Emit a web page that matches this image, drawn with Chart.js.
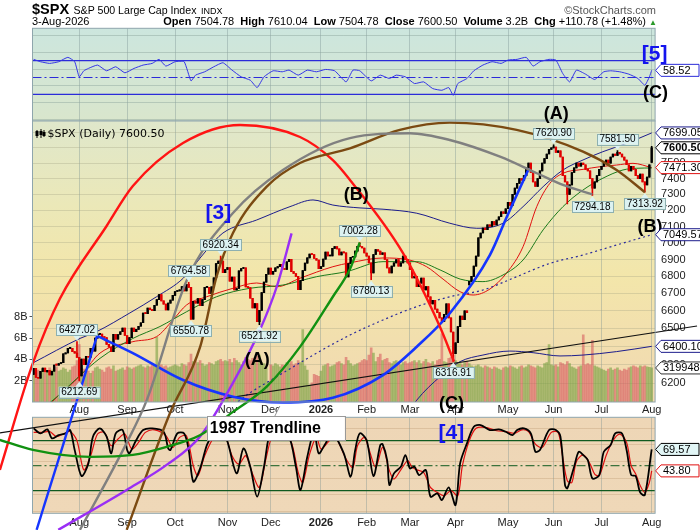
<!DOCTYPE html>
<html><head><meta charset="utf-8">
<script src="https://cdn.jsdelivr.net/npm/chart.js@4.4.1/dist/chart.umd.min.js"></script>
<style>
html,body{margin:0;padding:0;background:#fff;}
#wrap{position:relative;width:700px;height:530px;overflow:hidden;font-family:"Liberation Sans",Arial,sans-serif;color:#000;}
canvas{position:absolute;left:0;top:0;}
.hdr{position:absolute;white-space:nowrap;}
</style></head><body>
<div id="wrap">
<canvas id="cRsi" width="700" height="530"></canvas>
<canvas id="cOsc" width="700" height="530"></canvas>
<canvas id="cMain" width="700" height="530"></canvas>
<div class="hdr" style="left:32px;top:1px;line-height:15px;"><b style="font-size:14.5px">$SPX</b> <span style="font-size:10.6px">S&amp;P 500 Large Cap Index</span> <span style="font-size:9px">INDX</span></div>
<div class="hdr" style="right:44px;top:4px;font-size:11px;line-height:12px;color:#555">©StockCharts.com</div>
<div class="hdr" style="left:32px;top:15px;font-size:11px;line-height:12px">3-Aug-2026</div>
<div class="hdr" style="right:43px;top:15px;font-size:11px;line-height:12px"><b>Open</b> 7504.78&nbsp; <b>High</b> 7610.04&nbsp; <b>Low</b> 7504.78&nbsp; <b>Close</b> 7600.50&nbsp; <b>Volume</b> 3.2B&nbsp; <b>Chg</b> +110.78 (+1.48%) <span style="color:#2a9a2a;font-size:8px">▲</span></div>
</div>
<script>
// ---------------- DATA ----------------
const monthIdx = [20,41,62,85,104,126,146,165,185,208,228,249,271];
const monthLabels = ['Aug','Sep','Oct','Nov','Dec','2026','Feb','Mar','Apr','May','Jun','Jul','Aug'];

const closes = [
6279.35,6229.98,6225.52,6263.26,6280.46,6259.75,6268.56,6243.76,6263.70,6297.36,
6296.79,6305.60,6309.62,6358.91,6363.35,6388.64,6389.77,6370.86,6362.90,6339.39,
6238.01,6329.94,6299.19,6345.06,6340.00,6389.45,6373.45,6445.76,6466.58,6468.54,
6449.80,6449.15,6411.37,6395.78,6370.17,6466.91,6439.32,6465.94,6481.40,6501.86,
6460.26,6415.54,6448.26,6502.08,6481.50,6495.15,6512.61,6532.04,6587.47,6584.29,
6615.28,6606.76,6600.35,6631.96,6664.36,6693.75,6656.92,6637.97,6604.72,6643.70,
6661.21,6688.46,6711.20,6715.35,6715.79,6740.28,6714.59,6753.72,6735.11,6552.51,
6654.72,6644.31,6671.06,6629.07,6664.01,6735.13,6735.35,6699.40,6738.44,6791.69,
6875.16,6890.89,6890.59,6822.34,6840.20,6851.97,6771.55,6796.29,6720.32,6728.80,
6832.43,6846.61,6850.92,6737.49,6734.11,6672.41,6617.32,6642.16,6538.76,6602.99,
6705.12,6765.88,6812.61,6849.09,6812.63,6829.37,6849.72,6857.12,6870.40,6846.51,
6840.51,6886.68,6901.00,6827.41,6816.51,6800.26,6721.43,6774.76,6834.50,6878.49,
6909.79,6932.05,6929.94,6905.74,6896.24,6845.50,6858.47,6902.05,6944.82,6920.93,
6921.46,6966.28,6977.27,6963.74,6926.60,6944.47,6940.01,6796.86,6875.62,6913.35,
6915.61,6950.23,6978.60,6978.03,6969.01,6939.03,
6920,6880,6820,6930,6960,6950,6930,6940,6900,6850,6820,6860,6880,6900,6860,6880,6920,6900,6880,
6840,6790,6800,6740,6760,6790,6720,6740,6680,6640,6660,6610,6590,6560,6540,6580,6640,6560,6480,6360,6420,6510,
6570,6550,6600,6590,6770,6800,6860,6920,7030,7060,7090,7080,7110,7100,7130,7110,7140,7160,7190,7180,7210,
7250,7230,7300,7340,7370,7400,7390,7420,7470,7500,7440,7380,7350,7400,7450,7500,7530,7560,7590,7600,
7605,7570,7580,7540,7420,7380,7300,7360,7440,7470,7500,7480,7500,7490,7460,7450,7400,7340,7380,7420,7460,
7480,7500,7520,7500,7540,7560,7550,7570,7560,7540,7520,7490,7450,7480,7460,7420,7400,7430,7380,7360,7410,7489.72,7600.50
];
const firstOpen = 6247.0;
const openFixIdx = [191,271];
const openFixVal = [6750,7504.78];
const highIdx = [19,68,82,143,228,256,271];
const highVal = [6427.02,6764.58,6920.34,7002.28,7620.90,7581.50,7610.04];
const lowIdx = [20,69,99,148,184,234,245,268];
const lowVal = [6212.69,6550.78,6521.92,6780.13,6316.91,7240,7294.18,7313.92];

const volumes = [
2.6,2.9,3.0,2.8,3.1,2.7,2.9,3.2,3.0,3.1,3.3,2.9,3.0,3.2,3.1,2.8,3.0,3.3,3.4,3.9,
5.4,
3.2,3.1,3.0,2.9,2.7,2.9,3.2,3.3,3.1,3.0,2.8,3.2,3.3,3.1,3.4,2.9,3.0,3.1,3.2,3.0,
3.3,3.2,3.1,3.2,3.3,3.4,3.5,3.3,3.2,3.4,3.3,3.6,3.5,6.1,3.4,3.5,3.3,3.4,3.2,3.3,3.4,
3.5,3.4,3.3,3.6,3.5,3.4,3.7,4.5,3.8,3.9,3.7,3.9,3.6,3.4,3.5,3.7,3.6,3.5,3.8,3.9,4.0,3.8,3.9,
3.8,4.0,3.7,4.1,3.9,3.7,3.5,3.8,4.2,4.0,3.9,4.1,3.8,4.3,4.4,3.7,3.6,3.2,1.9,
3.5,3.4,3.6,3.5,3.3,3.5,3.4,3.7,3.6,3.8,3.5,3.6,3.9,3.7,6.8,3.4,3.0,1.6,1.8,2.6,2.5,2.4,
2.9,3.4,3.5,3.6,3.3,3.4,3.5,3.7,3.8,3.6,3.5,4.2,3.9,3.6,3.4,3.5,3.6,3.7,3.9,4.0,
3.9,4.4,5.1,4.6,3.8,4.2,4.5,3.9,4.0,4.1,3.7,3.6,3.8,3.9,3.6,3.5,3.7,3.8,3.6,
3.7,3.8,3.9,3.7,3.9,3.6,3.8,4.0,3.7,3.6,3.8,3.5,3.9,4.0,6.4,3.8,3.7,4.1,4.2,4.4,3.9,3.7,
3.6,3.5,3.7,3.8,3.6,3.4,3.3,3.4,3.5,3.3,3.2,3.4,3.3,3.2,3.1,3.3,3.2,3.1,3.0,3.2,3.3,
3.2,3.4,3.3,3.2,3.1,3.3,3.4,3.2,3.3,3.5,3.4,3.3,3.2,3.4,3.3,3.2,3.6,3.7,5.4,3.5,
3.4,3.5,3.3,3.7,3.6,3.5,3.8,3.6,3.3,3.2,3.1,3.3,3.4,6.3,3.5,3.6,3.5,5.8,3.4,3.3,3.2,
3.1,3.0,2.9,3.1,3.2,3.0,3.1,3.2,3.0,2.9,3.1,3.0,3.2,3.3,3.4,3.3,3.2,3.4,3.3,3.4,3.3,3.25,3.2
];

// overlays (trading-day index, price)
const ma20Idx = [0,7.1,21.6,29.1,43.5,53.9,61.1,67.1,75.9,87.4,97.8,106.6,116.8,131.2,138.7,153.2,165,172.3,179.5,187,192.7,200.1,207.4,214.6,220.6,226.4,232.1,240.9,248.3,255.6,262.8,271];
const ma20Val = [5990,6088,6254,6363,6426,6454,6548,6634,6681,6730,6761,6739,6789,6857,6880,6909,6896,6857,6784,6710,6691,6726,6820,6977,7223,7371,7435,7460,7477,7488,7499,7471.30];
const ma50Idx = [0,8.5,29.1,43.5,55.4,67.1,80.2,94.8,109.3,124.1,137.2,153.2,168,178.2,187,197,205.8,214.6,223.4,232.1,240.9,249.6,258.4,264.4,271];
const ma50Val = [6030,6109,6334,6444,6511,6595,6681,6730,6749,6798,6828,6887,6887,6838,6784,6769,6808,6897,7079,7223,7328,7403,7456,7467,7469];
const upperIdx = [-0.3,20.3,27.6,42.2,53.9,65.6,75.9,83,97.8,112.4,122.5,131.2,143.1,153.2,168,182.5,194.3,205.8,214.6,223.4,232.1,240.9,249.6,260,271];
const upperVal = [6309,6444,6482,6588,6681,6789,6957,7060,7140,7223,7265,7233,7215,7207,7182,7120,7089,7120,7223,7349,7456,7521,7575,7630,7699.05];
const lowerIdx = [160.6,168,178.2,187,197,208.8,219,230.8,240.9,255.6,271];
const lowerVal = [5979,6109,6234,6316,6352,6374,6365,6347,6352,6371,6400.10];
const ma200Idx = [80,87.4,94.8,109.3,124.1,138.7,153.2,168,182.5,197,211.8,226.4,240.9,255.6,271];
const ma200Val = [6040,6083,6147,6254,6363,6463,6548,6624,6681,6720,6798,6877,6927,6987,7049.57];

// hand-drawn arcs and trendlines
const redArcIdx = [-14.8,-0.3,11.5,32,43.5,65.5,90.5,116.8,131.2,138.7,161.9,178.2,184.3];
const redArcVal = [5751,6309,6669,7103,7353,7632,7752,7672,7520,7392,6939,6508,6317];
const grayArcIdx = [20.3,40.8,49.6,67.2,87.4,109.3,138.7,165,182.5,204.5,220.6,232.1,245];
const grayArcVal = [5460,5887,6109,6779,7183,7456,7665,7697,7652,7542,7435,7360,7300];
const brownArcIdx = [40.8,59.8,73,80.2,87.4,102.2,116.8,138.7,160.6,182.5,211.8,240.9,255.6,268];
const brownArcVal = [5460,6041,6397,6798,7060,7349,7501,7597,7719,7768,7719,7575,7456,7314];
const greenArcIdx = [-14.8,-0.3,24.7,43.5,58.3,72.9,87.4,102.2,116.8,131.2,138.7,143];
const greenArcVal = [5902,5851,5816,5826,5867,5926,6047,6181,6397,6681,6843,7002];
const purpleArcIdx = [10.8,40.8,58.3,72.9,87.4,99.2,106.6,113.1];
const purpleArcVal = [5460,5652,5776,5918,6201,6491,6739,7058];
const blueArcIdx = [27.8,43.5,65.5,87.4,109.3,131.2,153.2,168,182.5,200.1,207.4,217.2];
const blueArcVal = [6458,6363,6216,6127,6096,6121,6243,6398,6586,6927,7157,7467];
const blueLineIdx = [1.3,27.8];
const blueLineVal = [5460,6458];
const trendIdx = [-14.8,290.9];
const trendVal = [5938,6514];

// indicator panels
const rsiIdx = [0,3,7,11,15,18,20,22,24,28,32,36,40,44,48,52,55,58,62,66,69,71,75,79,83,87,91,95,98,101,105,109,112,116,120,124,128,132,137,140,143,148,152,156,159,163,167,171,175,179,182,184,186,190,193,197,201,205,208,212,216,219,222,226,229,232,235,238,242,246,250,253,257,261,265,268,270,271];
const rsiVal = [71.6,68.8,66.8,68.8,74,68.8,50.8,58,60.8,64.8,58,62.8,55.6,60.8,64.8,66.8,71.6,63.6,68.8,68.8,46,52.8,56.8,62.8,67.6,58.8,50.8,46.8,38,50.8,58,56.8,58.8,52.8,58.8,56.8,59.6,58,44.8,58.8,58,46,52.8,48.8,52.8,50.8,42.8,44.8,36.8,34.8,38,28.8,42.8,48.8,58,64.8,68.8,66.8,70.8,71.6,74,63.6,68.8,71.6,70.8,54.8,44.8,58.8,54,47.6,56.8,58,56.8,54,48.8,40.8,50.8,58.52];
const kIdx = [0,3,6,8,11,14,16,18,21,24,26,29,32,34,36,39,41,42,45,48,52,57,59,60,63,66,68,70,73,76,79,82,85,89,92,95,98,101,104,108,112,115,117,120,123,125,128,131,136,139,141,143,146,149,152,153,155,156,158,161,163,165,167,169,172,174,177,179,182,185,187,190,193,196,200,204,207,210,212,215,218,220,222,226,229,231,233,234,237,239,241,243,245,248,250,253,255,258,260,262,264,266,268,271];
const kVal = [94.8,88.8,93.6,82.8,86.8,88.8,92.8,68.8,37.6,52.8,84.8,94.8,84.8,64.8,88.8,92.8,68.8,64.8,80.8,92.8,94.8,90.8,70.8,68.8,88.8,88.8,68.8,30.8,46.8,75,90,95,78.8,40.8,70.8,48.8,12.8,48.8,92.8,90.8,84.8,48.8,20.8,60.8,90.8,64.8,76.8,88.8,64.8,36.8,68.8,88.8,80.8,37.6,74.8,76,56.8,26.8,40.8,48.8,62.8,46.8,48.8,38.8,44.8,12.8,16.8,8.8,24,2.8,52.8,76.8,96.8,98.8,92.8,93.6,90.8,86.8,92.8,94.8,88.8,66.8,68.8,92.8,92.8,84.8,26.8,22.8,48.8,66.8,62.8,56.8,34.8,38.8,66.8,74.8,88.8,88.8,68.8,38.8,37.6,17.6,14.8,69.57];
const dIdx = [0,4,7,10,13,16,19,22,25,28,31,34,37,40,43,46,49,53,58,61,64,67,70,72,75,79,83,87,90,93,96,99,102,105,109,113,116,118,121,124,126,129,132,137,140,142,145,147,150,153,156,158,161,164,166,168,171,174,177,180,183,186,188,191,194,198,203,207,211,214,217,220,223,227,230,232,234,236,238,241,244,246,248,251,254,257,260,262,264,266,268,270,271];
const dVal = [90,90,91,85,88,91,80,45,62,88,90,74,82,88,70,78,90,93,86,72,84,86,50,38,62,84,92,62,52,62,40,24,60,88,90,78,42,30,64,84,70,78,86,58,48,74,84,70,48,72,44,34,45,56,48,45,42,24,18,14,20,14,50,80,95,96,92,91,89,93,91,76,72,90,90,60,32,30,55,63,52,40,38,62,80,88,78,50,40,26,18,30,43.8];

const priceTicks = [6200,6300,6400,6500,6600,6700,6800,6900,7000,7100,7200,7300,7400,7500,7600,7700];
const volTicks = [2,4,6,8];
const rsiTicks = [0,10,20,30,40,50,60,70,80,90,100];
const rsiLabels = [10,30,50,70,90];
const oscLabels = [20,50,80];

// callouts (index, value, above?)
const calloutIdx = [19,20,68,69,82,99,143,148,184,228,245,256,268];
const calloutVal = [6427.02,6212.69,6764.58,6550.78,6920.34,6521.92,7002.28,6780.13,6316.91,7620.90,7294.18,7581.50,7313.92];
const calloutAbove = [1,0,1,0,1,0,1,0,0,1,0,1,0];
// wave labels
const waveText = ['[3]','[4]','[5]','(C)','(A)','(B)','(A)','(C)','(B)'];
const waveIdx = [81.0,183.2,272.3,272.7,229.2,141.5,98.1,183.2,270.3];
const waveVal = [7187,5943,8247,7980,7830,7303,6330,6094,7100];
const trendBox = [106.2,5963];

// ---------------- CHARTS ----------------
Chart.defaults.font.family = '"Liberation Sans", Arial, sans-serif';
Chart.defaults.font.size = 11;
Chart.defaults.color = '#222';
Chart.defaults.animation = false;
Chart.defaults.events = [];
Chart.defaults.plugins.legend.display = false;
Chart.defaults.plugins.tooltip.enabled = false;

const LEFT = 32.5, RIGHT_W = 44.9;
const pairs = (a, b) => a.map((x, k) => ({x: x, y: b[k]}));
const hline = (v) => [{x: -0.5, y: v}, {x: 272.5, y: v}];

function xScale(show, pad) {
  return {
    type: 'linear', min: -0.5, max: 272.5, offset: false,
    afterBuildTicks: s => { s.ticks = monthIdx.map(v => ({value: v})); },
    afterFit: s => { s.height = show ? 16 : 0; },
    ticks: {display: show, autoSkip: false, maxRotation: 0, minRotation: 0, padding: pad, color: '#222',
      callback: v => monthLabels[monthIdx.indexOf(v)],
      font: c => ({size: 11, weight: (c.tick && c.tick.value === 126) ? 'bold' : 'normal'})},
    grid: {color: 'rgba(120,145,145,0.38)', drawTicks: false, offset: false, lineWidth: 1},
    border: {display: false}
  };
}
function bgPlugin(stops, border) {
  return {id: 'bg', beforeDraw(chart) {
    const a = chart.chartArea, c = chart.ctx;
    const g = c.createLinearGradient(0, a.top, 0, a.bottom);
    stops.forEach(s => g.addColorStop(s[0], s[1]));
    c.save(); c.fillStyle = g; c.fillRect(a.left, a.top, a.right - a.left, a.bottom - a.top); c.restore();
  }, afterDatasetsDraw(chart) {
    const a = chart.chartArea, c = chart.ctx;
    c.save(); c.strokeStyle = border; c.lineWidth = 1;
    c.strokeRect(a.left, a.top, a.right - a.left, a.bottom - a.top); c.restore();
  }};
}
function tag(c, y, text, border, bold, fill) {
  c.save();
  c.font = (bold ? 'bold ' : '') + '11px "Liberation Sans", Arial';
  const w = c.measureText(text).width;
  const x0 = 655.6, x1 = 661, x2 = Math.max(699, x1 + w + 4), h = 12;
  c.beginPath(); c.moveTo(x0, y); c.lineTo(x1, y - h / 2); c.lineTo(x2, y - h / 2); c.lineTo(x2, y + h / 2); c.lineTo(x1, y + h / 2); c.closePath();
  c.fillStyle = fill || '#fff'; c.fill(); c.strokeStyle = border; c.lineWidth = 1; c.stroke();
  c.fillStyle = '#000'; c.textAlign = 'left'; c.textBaseline = 'middle';
  c.fillText(text, 663, y + 0.5);
  c.restore();
}

// ---- RSI panel ----
new Chart(document.getElementById('cRsi'), {
  type: 'line',
  data: {datasets: [
    {data: hline(70), borderColor: '#2b2bd9', borderWidth: 1.3, pointRadius: 0, order: 5},
    {data: hline(30), borderColor: '#2b2bd9', borderWidth: 1.3, pointRadius: 0, order: 5},
    {data: hline(50), borderColor: '#2b2bd9', borderWidth: 1, borderDash: [9, 3, 2, 3], pointRadius: 0, order: 5},
    {data: pairs(rsiIdx, rsiVal), borderColor: '#3535e6', borderWidth: 1, pointRadius: 0, tension: 0.15, order: 1}
  ]},
  options: {
    responsive: false, maintainAspectRatio: false,
    layout: {padding: {left: LEFT, right: 0, top: 28.3, bottom: 409}},
    scales: {
      x: xScale(false, 0),
      y: {type: 'linear', position: 'right', min: -1.8, max: 108.6,
        afterBuildTicks: s => { s.ticks = rsiTicks.map(v => ({value: v})); },
        afterFit: s => { s.width = RIGHT_W; },
        ticks: {padding: 6, color: '#222', callback: v => rsiLabels.includes(v) ? String(v) : ''},
        grid: {color: 'rgba(140,165,155,0.45)', drawTicks: false}, border: {display: false}}
    }
  },
  plugins: [bgPlugin([[0, '#cce6de'], [1, '#d9e6cc']], '#8fa6ad'), {id: 'rsiTag', afterDraw(chart) {
    tag(chart.ctx, chart.scales.y.getPixelForValue(rsiVal[rsiVal.length - 1]), rsiVal[rsiVal.length - 1].toFixed(2), '#2b2bd9', false);
  }}]
});

// ---- Stochastic panel ----
new Chart(document.getElementById('cOsc'), {
  type: 'line',
  data: {datasets: [
    {data: hline(80), borderColor: '#0f5a1f', borderWidth: 1.3, pointRadius: 0, order: 5},
    {data: hline(20), borderColor: '#0f5a1f', borderWidth: 1.3, pointRadius: 0, order: 5},
    {data: hline(50), borderColor: '#0f5a1f', borderWidth: 1, borderDash: [9, 3, 2, 3], pointRadius: 0, order: 5},
    {data: pairs(dIdx, dVal), borderColor: '#e01010', borderWidth: 1.2, pointRadius: 0, tension: 0.3, order: 2},
    {data: pairs(kIdx, kVal), borderColor: '#000', borderWidth: 1.8, pointRadius: 0, tension: 0.3, order: 1}
  ]},
  options: {
    responsive: false, maintainAspectRatio: false,
    layout: {padding: {left: LEFT, right: 0, top: 417.3, bottom: 0.7}},
    scales: {
      x: xScale(true, 3),
      y: {type: 'linear', position: 'right', min: -7.1, max: 108.1,
        afterBuildTicks: s => { const t = []; for (let v = -5; v <= 105; v += 5) t.push({value: v}); s.ticks = t; },
        afterFit: s => { s.width = RIGHT_W; },
        ticks: {padding: 6, color: '#222', callback: v => oscLabels.includes(v) ? String(v) : ''},
        grid: {color: 'rgba(185,150,110,0.33)', drawTicks: false}, border: {display: false}}
    }
  },
  plugins: [bgPlugin([[0, '#eed6b6'], [1, '#efd8b8']], '#8fa6ad'), {id: 'oscTag', afterDraw(chart) {
    const y = chart.scales.y;
    tag(chart.ctx, y.getPixelForValue(kVal[kVal.length - 1]), kVal[kVal.length - 1].toFixed(2), '#000', false, '#e2f6f6');
    tag(chart.ctx, y.getPixelForValue(dVal[dVal.length - 1]), dVal[dVal.length - 1].toFixed(2), '#e01010', false);
  }}]
});

// ---- Main price panel ----
const N = closes.length;
const opens = closes.map((c, i) => i === 0 ? firstOpen : closes[i - 1]);
openFixIdx.forEach((k, j) => { opens[k] = openFixVal[j]; });
const highs = closes.map((c, i) => Math.max(c, opens[i]));
const lows = closes.map((c, i) => Math.min(c, opens[i]));
highIdx.forEach((k, j) => { highs[k] = Math.max(highs[k], highVal[j]); });
lowIdx.forEach((k, j) => { lows[k] = Math.min(lows[k], lowVal[j]); });
const upDay = closes.map((c, i) => i === 0 ? c >= opens[0] : c >= closes[i - 1]);

const arc = (idx, val, color, w) => ({type: 'line', data: pairs(idx, val), borderColor: color, borderWidth: w, pointRadius: 0, cubicInterpolationMode: 'monotone', capBezierPoints: false, clip: false, order: 5, yAxisID: 'y'});
const maLine = (idx, val, color, w, dash) => ({type: 'line', data: pairs(idx, val), borderColor: color, borderWidth: w, borderDash: dash || [], pointRadius: 0, cubicInterpolationMode: 'monotone', order: 50, yAxisID: 'y'});

const mainChart = new Chart(document.getElementById('cMain'), {
  type: 'bar',
  data: {datasets: [
    {type: 'bar', yAxisID: 'vol', data: volumes.map((v, i) => ({x: i, y: v})), barThickness: 2, grouped: false, order: 100,
      backgroundColor: upDay.map(u => u ? 'rgba(118,158,62,0.58)' : 'rgba(214,84,90,0.55)')},
    maLine(ma200Idx, ma200Val, '#2a2a9c', 1.2, [2, 3]),
    maLine(upperIdx, upperVal, '#1c1c8c', 1),
    maLine(lowerIdx, lowerVal, '#1c1c8c', 1),
    maLine(ma50Idx, ma50Val, '#1b7a1b', 1),
    maLine(ma20Idx, ma20Val, '#e01010', 1),
    {type: 'bar', yAxisID: 'y', data: closes.map((c, i) => ({x: i, y: [lows[i], highs[i]]})), barThickness: 1, grouped: false, order: 40, minBarLength: 1,
      backgroundColor: upDay.map(u => u ? '#000' : '#e00000')},
    {type: 'bar', yAxisID: 'y', data: closes.map((c, i) => ({x: i, y: [opens[i], c]})), barThickness: 1.7, grouped: false, order: 30, minBarLength: 1,
      backgroundColor: upDay.map(u => u ? '#000' : '#e00000')},
    {type: 'line', yAxisID: 'y', data: pairs(trendIdx, trendVal), borderColor: '#111', borderWidth: 1.2, pointRadius: 0, tension: 0, clip: false, order: 6},
    arc(greenArcIdx, greenArcVal, '#119111', 2.4),
    arc(purpleArcIdx, purpleArcVal, '#9a2ef5', 2.4),
    arc(grayArcIdx, grayArcVal, '#808080', 2.4),
    arc(brownArcIdx, brownArcVal, '#7b4a12', 2.4),
    arc(redArcIdx, redArcVal, '#ff1414', 2.4),
    arc(blueArcIdx, blueArcVal, '#1535ff', 2.6),
    {type: 'line', yAxisID: 'y', data: pairs(blueLineIdx, blueLineVal), borderColor: '#1535ff', borderWidth: 2.4, pointRadius: 0, tension: 0, clip: false, order: 5}
  ]},
  options: {
    responsive: false, maintainAspectRatio: false,
    layout: {padding: {left: 0, right: 0, top: 121, bottom: 112}},
    scales: {
      x: xScale(true, 1),
      y: {type: 'logarithmic', position: 'right', min: 6099, max: 7779,
        afterBuildTicks: s => { s.ticks = priceTicks.map(v => ({value: v})); },
        afterFit: s => { s.width = RIGHT_W; },
        ticks: {padding: 6, color: '#222', callback: v => String(v)},
        grid: {color: 'rgba(160,160,130,0.33)', drawTicks: false}, border: {display: false}},
      vol: {type: 'linear', position: 'left', min: 0, max: 26.4,
        afterBuildTicks: s => { s.ticks = volTicks.map(v => ({value: v})); },
        afterFit: s => { s.width = LEFT; },
        ticks: {padding: 2, color: '#222', callback: v => v + 'B'},
        grid: {drawOnChartArea: false, drawTicks: true, tickLength: 3, color: '#555'}, border: {display: false}}
    }
  },
  plugins: [bgPlugin([[0, '#dfe7cb'], [0.3, '#ebe8b8'], [0.55, '#f3e6aa'], [1, '#f1d8b2']], '#8fa6ad'), {id: 'annot', afterDraw(chart) {
    const c = chart.ctx, xs = chart.scales.x, ys = chart.scales.y, vs = chart.scales.vol;
    c.save();
    // callouts
    c.font = '10px "Liberation Sans", Arial';
    calloutIdx.forEach((k, j) => {
      const x = xs.getPixelForValue(k), y = ys.getPixelForValue(calloutVal[j]);
      const t = calloutVal[j].toFixed(2), w = c.measureText(t).width + 5, h = 11, gap = 6;
      const above = calloutAbove[j] === 1;
      const top = above ? y - gap - h : y + gap;
      c.fillStyle = '#dcf2f2'; c.strokeStyle = '#8db0b0'; c.lineWidth = 1;
      c.beginPath();
      if (above) { c.moveTo(x - 4, top + h); c.lineTo(x, y - 1); c.lineTo(x + 4, top + h); }
      else { c.moveTo(x - 4, top); c.lineTo(x, y + 1); c.lineTo(x + 4, top); }
      c.closePath(); c.fill();
      c.fillRect(x - w / 2, top, w, h); c.strokeRect(Math.round(x - w / 2) + 0.5, Math.round(top) + 0.5, Math.round(w), h);
      c.fillStyle = '#000'; c.textAlign = 'center'; c.textBaseline = 'middle';
      c.fillText(t, x, top + h / 2 + 0.5);
    });
    // wave labels
    waveText.forEach((t, j) => {
      const x = xs.getPixelForValue(waveIdx[j]), y = ys.getPixelForValue(waveVal[j]);
      const br = t.charAt(0) === '[';
      c.font = br ? 'bold 21px "Liberation Sans", Arial' : 'bold 18px "Liberation Sans", Arial';
      c.fillStyle = br ? '#1414ee' : '#000'; c.textAlign = 'center'; c.textBaseline = 'middle';
      c.fillText(t, x, y + 1);
    });
    // 1987 trendline box
    const bx = xs.getPixelForValue(trendBox[0]), by = ys.getPixelForValue(trendBox[1]);
    const bl = bx - 69, bt = by - 12, bw = 138, bh = 24;
    c.fillStyle = '#fff'; c.strokeStyle = '#999'; c.lineWidth = 1;
    c.beginPath(); c.moveTo(bl + 68, bt); c.lineTo(bl + 73, bt - 10); c.lineTo(bl + 78, bt - 10); c.lineTo(bl + 78, bt); c.closePath(); c.fill();
    c.beginPath(); c.moveTo(bl + 68, bt); c.lineTo(bl + 73, bt - 10); c.stroke();
    c.fillRect(bl, bt, bw, bh); c.strokeRect(Math.round(bl) + 0.5, Math.round(bt) + 0.5, bw, bh);
    c.fillStyle = '#000'; c.font = 'bold 16px "Liberation Sans", Arial'; c.textAlign = 'left'; c.textBaseline = 'middle';
    c.fillText('1987 Trendline', bl + 3, by + 1);
    // title inside panel
    const a = chart.chartArea;
    c.fillStyle = '#000';
    c.fillRect(a.left + 4, a.top + 9, 1, 8); c.fillRect(a.left + 3, a.top + 10, 3, 5);
    c.fillRect(a.left + 8, a.top + 8, 1, 9); c.fillRect(a.left + 7, a.top + 10, 3, 4);
    c.fillRect(a.left + 11, a.top + 9, 1, 7); c.fillRect(a.left + 10, a.top + 11, 3, 4);
    c.font = '11px "DejaVu Sans", Verdana, sans-serif'; c.textAlign = 'left'; c.textBaseline = 'alphabetic';
    c.fillText('$SPX (Daily) ' + closes[N - 1].toFixed(2), a.left + 15, a.top + 16);
    c.restore();
    // right-side value tags
    tag(c, ys.getPixelForValue(upperVal[upperVal.length - 1]), upperVal[upperVal.length - 1].toFixed(2), '#1c1c8c', false);
    tag(c, ys.getPixelForValue(closes[N - 1]), closes[N - 1].toFixed(2), '#000', true);
    tag(c, ys.getPixelForValue(ma20Val[ma20Val.length - 1]), ma20Val[ma20Val.length - 1].toFixed(2), '#e01010', false);
    tag(c, ys.getPixelForValue(ma200Val[ma200Val.length - 1]), ma200Val[ma200Val.length - 1].toFixed(2), '#1c1c8c', false);
    tag(c, ys.getPixelForValue(lowerVal[lowerVal.length - 1]), lowerVal[lowerVal.length - 1].toFixed(2), '#1c1c8c', false);
    tag(c, vs.getPixelForValue(3.199483), '3199483', '#333', false);
  }}]
});
</script>
</body></html>
